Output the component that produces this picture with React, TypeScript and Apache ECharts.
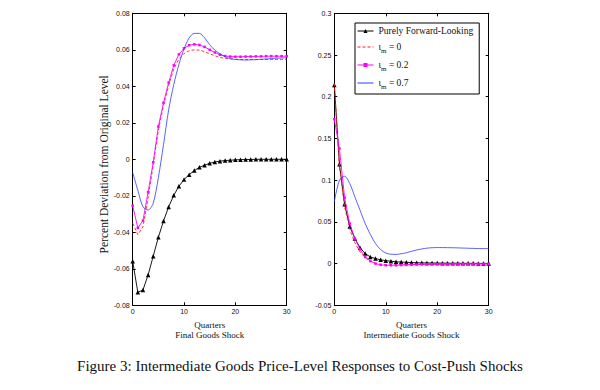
import React, { useEffect, useRef } from "react";
import * as echarts from "echarts";

const quarters = Array.from({ length: 31 }, (_, i) => i);

const leftForward = [-0.0559, -0.0729, -0.0716, -0.0634, -0.0531, -0.0427, -0.0338, -0.0261, -0.0197, -0.0148, -0.0111, -0.0084, -0.0062, -0.0044, -0.0032, -0.0022, -0.0015, -0.001, -0.0007, -0.0005, -0.0003, -0.0002, -0.0001, -0.0001, 0, 0, 0, 0, 0, 0, 0];
const leftIota0 = [-0.035, -0.0413, -0.037, -0.021, -0.003, 0.016, 0.0295, 0.0405, 0.0495, 0.055, 0.058, 0.0595, 0.06, 0.0598, 0.059, 0.0578, 0.0567, 0.0558, 0.0553, 0.055, 0.0548, 0.0547, 0.0547, 0.0547, 0.0547, 0.0547, 0.0547, 0.0547, 0.0547, 0.0547, 0.0547];
const leftIota02 = [-0.0254, -0.0376, -0.0336, -0.018, -0.0016, 0.018, 0.031, 0.042, 0.0515, 0.0575, 0.0608, 0.0625, 0.063, 0.0626, 0.0616, 0.06, 0.0585, 0.0573, 0.0566, 0.0563, 0.0562, 0.0562, 0.0563, 0.0563, 0.0564, 0.0564, 0.0565, 0.0565, 0.0565, 0.0565, 0.0565];
const leftIota07 = [-0.0072, -0.017, -0.026, -0.0278, -0.024, -0.01, 0.008, 0.027, 0.041, 0.052, 0.0605, 0.0665, 0.069, 0.069, 0.0665, 0.0628, 0.0598, 0.0578, 0.0562, 0.0552, 0.0547, 0.0545, 0.0544, 0.0545, 0.0546, 0.0548, 0.055, 0.0552, 0.0554, 0.0555, 0.0556];

const rightForward = [0.214, 0.119, 0.071, 0.0445, 0.03, 0.019, 0.012, 0.008, 0.006, 0.0045, 0.0035, 0.0028, 0.0022, 0.0018, 0.0015, 0.0012, 0.001, 0.0009, 0.0008, 0.0007, 0.0006, 0.0005, 0.0005, 0.0004, 0.0004, 0.0003, 0.0003, 0.0003, 0.0002, 0.0002, 0.0002];
const rightIota0 = [0.216, 0.116, 0.068, 0.041, 0.025, 0.014, 0.007, 0.003, 0.0005, -0.001, -0.0015, -0.0015, -0.0014, -0.0012, -0.001, -0.0009, -0.0008, -0.0007, -0.0006, -0.0005, -0.0005, -0.0004, -0.0004, -0.0003, -0.0003, -0.0003, -0.0002, -0.0002, -0.0002, -0.0002, -0.0002];
const rightIota02 = [0.173, 0.138, 0.079, 0.048, 0.03, 0.017, 0.008, 0.003, 0, -0.0015, -0.002, -0.002, -0.002, -0.0018, -0.0016, -0.0014, -0.0012, -0.001, -0.0009, -0.0008, -0.0007, -0.0006, -0.0006, -0.0005, -0.0005, -0.0005, -0.0004, -0.0004, -0.0004, -0.0004, -0.0004];
const rightIota07 = [0.074, 0.0999, 0.1047, 0.096, 0.08, 0.064, 0.048, 0.035, 0.024, 0.0168, 0.0127, 0.0112, 0.011, 0.0118, 0.013, 0.0147, 0.0163, 0.0175, 0.0185, 0.019, 0.0192, 0.0192, 0.0191, 0.019, 0.0188, 0.0186, 0.0184, 0.0182, 0.018, 0.018, 0.0179];

const seriesNames = ["Purely Forward-Looking", "ι_m = 0", "ι_m = 0.2", "ι_m = 0.7"];
const legendTexts: Record<string, string> = {
  "Purely Forward-Looking": "{b|Purely Forward-Looking}",
  "ι_m = 0": "{b|ι}{s|m}{b| = 0}",
  "ι_m = 0.2": "{b|ι}{s|m}{b| = 0.2}",
  "ι_m = 0.7": "{b|ι}{s|m}{b| = 0.7}",
};
const leftTitle = "Quarters\nFinal Goods Shock";
const rightTitle = "Quarters\nIntermediate Goods Shock";
const yTitle = "Percent Deviation from Original Level";
const caption = "Figure 3: Intermediate Goods Price-Level Responses to Cost-Push Shocks";

const SERIF = "'Liberation Serif', 'DejaVu Serif', serif";
const SANS = "'Liberation Sans', Arial, sans-serif";

const RED = "#ff2020";
const MAGENTA = "#ff00ff";
const BLUE = "#2b3bff";

function pairs(ys: number[]) {
  return ys.map((y, i) => [quarters[i], y]);
}

export default function App() {
  const ref = useRef<HTMLDivElement>(null);
  useEffect(() => {
    if (!ref.current) return;
    const chart = echarts.init(ref.current, null, { renderer: "svg" });

    const tickLabel = { fontFamily: SANS, fontSize: 7, color: "#111", margin: 3 };
    const lineAx = { show: true, onZero: false, lineStyle: { color: "#000", width: 1 } };
    const tick = { inside: true, length: 3, lineStyle: { color: "#000" } };
    const baseX = (gridIndex: number, name: string) => [
      {
        type: "value", gridIndex, min: 0, max: 30, interval: 10, position: "bottom",
        axisLine: lineAx, axisTick: tick, axisLabel: tickLabel,
        splitLine: { show: false },
        name, nameLocation: "middle", nameGap: 7,
        nameTextStyle: { fontFamily: SERIF, fontSize: 9, color: "#111", lineHeight: 10, verticalAlign: "top" },
      },
      {
        type: "value", gridIndex, min: 0, max: 30, interval: 10, position: "top",
        axisLine: lineAx, axisTick: tick, axisLabel: { show: false },
        splitLine: { show: false },
      },
    ];
    const baseY = (gridIndex: number, min: number, max: number, interval: number, name?: string) => [
      {
        type: "value", gridIndex, min, max, interval, position: "left",
        axisLine: lineAx, axisTick: tick, axisLabel: tickLabel,
        splitLine: { show: false },
        name, nameLocation: "middle", nameRotate: 90, nameGap: 23,
        nameTextStyle: { fontFamily: SERIF, fontSize: 11.5, color: "#111", padding: [0, 10, 0, 0] },
      },
      {
        type: "value", gridIndex, min, max, interval, position: "right",
        axisLine: lineAx, axisTick: tick, axisLabel: { show: false },
        splitLine: { show: false },
      },
    ];

    const mk = (panel: number, data: number[][]) => {
      const xi = panel * 2;
      const yi = panel * 2;
      return [
        {
          name: seriesNames[0], type: "line", xAxisIndex: xi, yAxisIndex: yi, data: pairs(data[0]),
          symbol: "triangle", symbolSize: 4.5, showSymbol: true,
          itemStyle: { color: "#000" }, lineStyle: { color: "#000", width: 0.9 }, z: 2,
        },
        {
          name: seriesNames[1], type: "line", xAxisIndex: xi, yAxisIndex: yi, data: pairs(data[1]),
          symbol: "none", itemStyle: { color: RED },
          lineStyle: { color: RED, width: 0.9, type: [3, 2] }, z: 3,
        },
        {
          name: seriesNames[2], type: "line", xAxisIndex: xi, yAxisIndex: yi, data: pairs(data[2]),
          symbol: "rect", symbolSize: 2.5, showSymbol: true,
          itemStyle: { color: MAGENTA }, lineStyle: { color: MAGENTA, width: 0.9 }, z: 4,
        },
        {
          name: seriesNames[3], type: "line", xAxisIndex: xi, yAxisIndex: yi, data: pairs(data[3]),
          symbol: "none", smooth: 0.3, itemStyle: { color: BLUE },
          lineStyle: { color: BLUE, width: 0.8 }, z: 5,
        },
      ];
    };

    const hidden = { color: "rgba(0,0,0,0)", borderWidth: 0, opacity: 0 };

    chart.setOption({
      animation: false,
      backgroundColor: "#fff",
      title: {
        text: caption, left: "center", top: 353,
        textStyle: { fontFamily: SERIF, fontSize: 15, fontWeight: "normal", color: "#111" },
      },
      legend: {
        data: [
          { name: seriesNames[0], itemStyle: { color: "#000" }, lineStyle: { color: "#000", width: 1 } },
          { name: seriesNames[1], itemStyle: hidden, lineStyle: { color: RED, width: 1, type: [3, 2], opacity: 1 } },
          { name: seriesNames[2], itemStyle: { color: MAGENTA }, lineStyle: { color: MAGENTA, width: 1 } },
          { name: seriesNames[3], itemStyle: hidden, lineStyle: { color: BLUE, width: 1, opacity: 1 } },
        ],
        orient: "vertical",
        left: 355, top: 23,
        backgroundColor: "#fff", borderColor: "#000", borderWidth: 1, borderRadius: 0,
        padding: [3, 6, 4, 2],
        itemWidth: 16, itemHeight: 5, itemGap: 4,
        formatter: (n: string) => legendTexts[n] || n,
        textStyle: {
          color: "#111",
          rich: {
            b: { fontFamily: SERIF, fontSize: 9.5, color: "#111", lineHeight: 14 },
            s: { fontFamily: SERIF, fontSize: 7, color: "#111", lineHeight: 14, padding: [7, 0, 0, 0] },
          },
        },
      },
      grid: [
        { left: 132.7, top: 13.3, width: 154, height: 292, show: false },
        { left: 334.3, top: 13.3, width: 154.4, height: 292, show: false },
      ],
      xAxis: [...baseX(0, leftTitle), ...baseX(1, rightTitle)],
      yAxis: [...baseY(0, -0.08, 0.08, 0.02, yTitle), ...baseY(1, -0.05, 0.3, 0.05)],
      series: [
        ...mk(0, [leftForward, leftIota0, leftIota02, leftIota07]),
        ...mk(1, [rightForward, rightIota0, rightIota02, rightIota07]),
      ],
    });
    return () => chart.dispose();
  }, []);
  return (
    <div
      ref={ref}
      style={{ position: "fixed", left: 0, top: 0, width: 600, height: 390, background: "#fff" }}
    />
  );
}
